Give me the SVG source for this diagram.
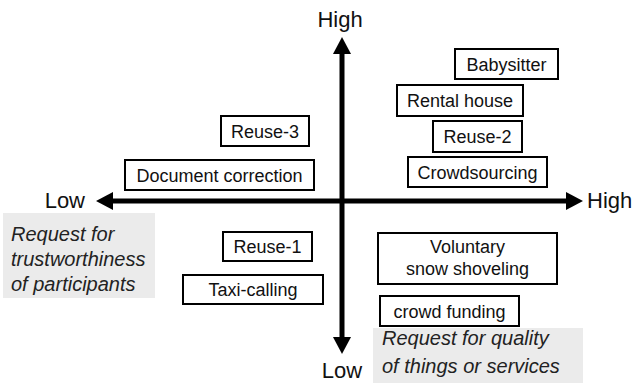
<svg xmlns="http://www.w3.org/2000/svg" width="635" height="383" viewBox="0 0 635 383">
<style>
.box{fill:#fff;stroke:#000;stroke-width:2}
.t{font-family:"Liberation Sans",Arial,sans-serif;font-size:18px;fill:#111;text-anchor:middle}
.ax{font-family:"Liberation Sans",Arial,sans-serif;font-size:22px;fill:#111}
.it{font-family:"Liberation Sans",Arial,sans-serif;font-size:20px;font-style:italic;fill:#222}
.note{fill:#ebebeb}
.axis{stroke:#000;stroke-width:5;fill:none}
</style>
<defs>
<marker id="ah" markerUnits="userSpaceOnUse" markerWidth="17" markerHeight="18" refX="0" refY="9" orient="auto-start-reverse">
<path d="M0,0 L17,9 L0,18 z" fill="#000"/>
</marker>
</defs>
<g id="notes">
<rect class="note" x="3" y="213" width="152" height="85"/>
<text class="it" x="11" y="241">Request for</text>
<text class="it" x="11" y="266">trustworthiness</text>
<text class="it" x="11" y="291">of participants</text>
<rect class="note" x="373" y="328" width="210" height="55"/>
<text class="it" x="382" y="345">Request for quality</text>
<text class="it" x="382" y="373">of things or services</text>
</g>
<g id="connectors">
<line class="axis" x1="113" y1="201" x2="566" y2="201" marker-start="url(#ah)" marker-end="url(#ah)"/>
<line class="axis" x1="342" y1="54" x2="342" y2="337" marker-start="url(#ah)" marker-end="url(#ah)"/>
</g>
<g id="labels">
<text class="ax" x="340" y="27" text-anchor="middle">High</text>
<text class="ax" x="85" y="208" text-anchor="end">Low</text>
<text class="ax" x="587" y="208">High</text>
<text class="ax" x="342" y="378" text-anchor="middle">Low</text>
</g>
<g id="babysitter"><rect class="box" x="455" y="49" width="103" height="30"/><text class="t" x="506.5" y="70.5">Babysitter</text></g>
<g id="rental-house"><rect class="box" x="397" y="85" width="126" height="31"/><text class="t" x="460" y="107">Rental house</text></g>
<g id="reuse-2"><rect class="box" x="433" y="121" width="89" height="31"/><text class="t" x="477.5" y="143">Reuse-2</text></g>
<g id="crowdsourcing"><rect class="box" x="408" y="157" width="139" height="30"/><text class="t" x="477.5" y="178.5">Crowdsourcing</text></g>
<g id="reuse-3"><rect class="box" x="221" y="116" width="88" height="30"/><text class="t" x="265" y="137.5">Reuse-3</text></g>
<g id="document-correction"><rect class="box" x="125" y="160" width="189" height="30"/><text class="t" x="219.5" y="181.5">Document correction</text></g>
<g id="reuse-1"><rect class="box" x="223" y="232" width="89" height="29"/><text class="t" x="267.5" y="253">Reuse-1</text></g>
<g id="taxi-calling"><rect class="box" x="183" y="275" width="140" height="29"/><text class="t" x="253" y="296">Taxi-calling</text></g>
<g id="snow-shoveling"><rect class="box" x="378" y="233" width="179" height="51"/><text class="t" x="467.5" y="253">Voluntary</text><text class="t" x="467.5" y="275">snow shoveling</text></g>
<g id="crowd-funding"><rect class="box" x="380" y="296" width="139" height="30"/><text class="t" x="449.5" y="317.5">crowd funding</text></g>
</svg>
